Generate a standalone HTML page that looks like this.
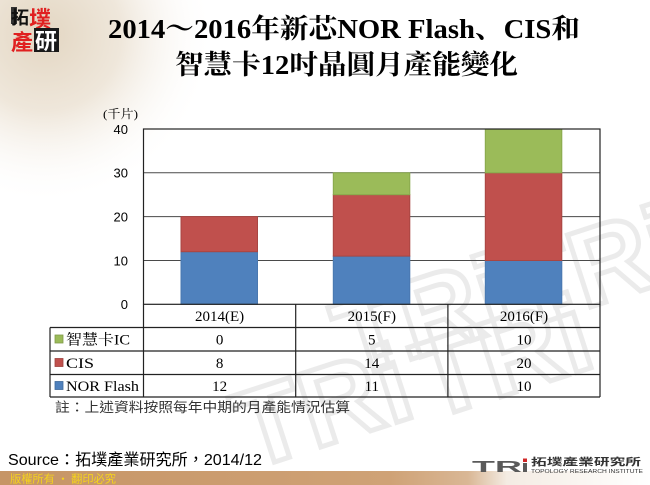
<!DOCTYPE html>
<html>
<head>
<meta charset="utf-8">
<style>
  html,body{margin:0;padding:0;background:#fff;}
  body{width:650px;height:485px;overflow:hidden;}
  svg{display:block;}
</style>
</head>
<body>
<svg width="650" height="485" viewBox="0 0 650 485" xmlns="http://www.w3.org/2000/svg">
  <defs>
    <radialGradient id="parch" cx="45" cy="35" r="170" gradientUnits="userSpaceOnUse">
      <stop offset="0" stop-color="#e3d6c2"/>
      <stop offset="0.45" stop-color="#efe7db"/>
      <stop offset="1" stop-color="#ffffff" stop-opacity="0"/>
    </radialGradient>
    <linearGradient id="bar" x1="0" y1="0" x2="1" y2="0">
      <stop offset="0" stop-color="#c69566"/>
      <stop offset="0.6" stop-color="#cfa276"/>
      <stop offset="0.72" stop-color="#d9b795"/>
      <stop offset="0.78" stop-color="#f4ece3"/>
      <stop offset="1" stop-color="#ffffff"/>
    </linearGradient>
  </defs>

  <!-- background -->
  <rect x="0" y="0" width="650" height="485" fill="#ffffff"/>
  <rect x="0" y="0" width="260" height="200" fill="url(#parch)"/>

  <!-- watermark -->
  <g font-family="Liberation Sans, sans-serif" font-weight="bold" fill="none" stroke="#ebebeb" stroke-width="5" font-size="110">
    <text x="250" y="470" transform="rotate(-18 250 470)">TRi</text>
    <text x="430" y="420" transform="rotate(-18 430 420)">TRi</text>
    <text x="520" y="330" transform="rotate(-18 520 330)">TRi</text>
    <text x="350" y="380" transform="rotate(-18 350 380)">TRi</text>
  </g>

  <!-- top-left logo -->
  <rect x="11" y="7" width="6" height="17" fill="#333"/>
  <text x="11" y="24" font-family="Noto Sans CJK TC, sans-serif" font-weight="bold" font-size="18" fill="#111">拓</text>
  <text x="29" y="27" font-family="Noto Sans CJK TC, sans-serif" font-weight="bold" font-size="22" fill="#e02020">墣</text>
  <text x="11" y="50" font-family="Noto Sans CJK TC, sans-serif" font-weight="bold" font-size="22" fill="#e02020">產</text>
  <rect x="34" y="28" width="25" height="24" fill="#1a1a1a"/>
  <text x="35" y="49" font-family="Noto Sans CJK TC, sans-serif" font-weight="bold" font-size="22" fill="#ffffff">研</text>

  <!-- title -->
  <g font-family="Liberation Serif, Noto Serif CJK SC, serif" font-weight="bold" fill="#000">
    <text x="108" y="38" font-size="27" textLength="472" lengthAdjust="spacingAndGlyphs">2014～2016年新芯NOR Flash、CIS和</text>
    <text x="175" y="74" font-size="27" textLength="343" lengthAdjust="spacingAndGlyphs">智慧卡12吋晶圓月產能變化</text>
  </g>

  <!-- y axis unit and labels -->
  <text x="103" y="118" font-family="Liberation Serif, Noto Serif CJK SC, serif" font-size="12" fill="#000" textLength="35" lengthAdjust="spacingAndGlyphs">(千片)</text>
  <g font-family="Liberation Sans, sans-serif" font-size="13" fill="#000" text-anchor="end">
    <text x="128" y="134">40</text>
    <text x="128" y="177.5">30</text>
    <text x="128" y="221.5">20</text>
    <text x="128" y="265.5">10</text>
    <text x="128" y="309">0</text>
  </g>

  <!-- grid lines -->
  <g stroke="#4a4a4a" stroke-width="1">
    <line x1="143.5" y1="172.8" x2="600" y2="172.8"/>
    <line x1="143.5" y1="216.6" x2="600" y2="216.6"/>
    <line x1="143.5" y1="260.5" x2="600" y2="260.5"/>
  </g>

  <!-- bars -->
  <g stroke-width="1">
    <!-- 2014 -->
    <rect x="181" y="251.7" width="76.5" height="52.6" fill="#4f81bd" stroke="#4a78b0"/>
    <rect x="181" y="216.6" width="76.5" height="35.1" fill="#c0504d" stroke="#a84542"/>
    <!-- 2015 -->
    <rect x="333.3" y="256.1" width="76.5" height="48.2" fill="#4f81bd" stroke="#4a78b0"/>
    <rect x="333.3" y="194.7" width="76.5" height="61.4" fill="#c0504d" stroke="#a84542"/>
    <rect x="333.3" y="172.8" width="76.5" height="21.9" fill="#9bbb59" stroke="#88a84c"/>
    <!-- 2016 -->
    <rect x="485.3" y="260.5" width="76.5" height="43.8" fill="#4f81bd" stroke="#4a78b0"/>
    <rect x="485.3" y="172.8" width="76.5" height="87.7" fill="#c0504d" stroke="#a84542"/>
    <rect x="485.3" y="129" width="76.5" height="43.8" fill="#9bbb59" stroke="#88a84c"/>
  </g>

  <!-- plot border -->
  <rect x="143.5" y="129" width="456.5" height="175.3" fill="none" stroke="#222" stroke-width="1.2"/>

  <!-- data table -->
  <g stroke="#222" stroke-width="1.2" fill="none">
    <line x1="143.5" y1="304.3" x2="143.5" y2="397"/>
    <line x1="295.7" y1="304.3" x2="295.7" y2="397"/>
    <line x1="447.9" y1="304.3" x2="447.9" y2="397"/>
    <line x1="600" y1="304.3" x2="600" y2="397"/>
    <line x1="50" y1="327.5" x2="50" y2="397"/>
    <line x1="50" y1="327.5" x2="600" y2="327.5"/>
    <line x1="50" y1="351" x2="600" y2="351"/>
    <line x1="50" y1="374.5" x2="600" y2="374.5"/>
    <line x1="50" y1="397" x2="600" y2="397"/>
  </g>

  <g font-family="Liberation Serif, Noto Serif CJK SC, serif" font-size="15" fill="#000" text-anchor="middle">
    <text x="219.6" y="321">2014(E)</text>
    <text x="371.8" y="321">2015(F)</text>
    <text x="524" y="321">2016(F)</text>

    <text x="219.6" y="344.5">0</text>
    <text x="371.8" y="344.5">5</text>
    <text x="524" y="344.5">10</text>

    <text x="219.6" y="368">8</text>
    <text x="371.8" y="368">14</text>
    <text x="524" y="368">20</text>

    <text x="219.6" y="391">12</text>
    <text x="371.8" y="391">11</text>
    <text x="524" y="391">10</text>
  </g>

  <!-- legend keys -->
  <rect x="55" y="335" width="8" height="8" fill="#9bbb59" stroke="#7f9a48" stroke-width="0.8"/>
  <rect x="55" y="358.5" width="8" height="8" fill="#c0504d" stroke="#9e413e" stroke-width="0.8"/>
  <rect x="55" y="381.5" width="8" height="8" fill="#4f81bd" stroke="#3f6a9c" stroke-width="0.8"/>
  <g font-family="Liberation Serif, Noto Serif CJK SC, serif" font-size="15" fill="#000">
    <text x="66" y="344.5" textLength="64" lengthAdjust="spacingAndGlyphs">智慧卡IC</text>
    <text x="66" y="368" textLength="28" lengthAdjust="spacingAndGlyphs">CIS</text>
    <text x="66" y="391" textLength="73" lengthAdjust="spacingAndGlyphs">NOR Flash</text>
  </g>

  <!-- note -->
  <text x="55" y="412" font-family="Noto Sans CJK TC, sans-serif" font-size="13.5" fill="#333" textLength="295" lengthAdjust="spacingAndGlyphs">註：上述資料按照每年中期的月產能情況估算</text>

  <!-- source -->
  <text x="8" y="465" font-family="Liberation Sans, Noto Sans CJK TC, sans-serif" font-size="16" fill="#000" textLength="254" lengthAdjust="spacingAndGlyphs">Source：拓墣產業研究所，2014/12</text>

  <!-- bottom bar -->
  <rect x="0" y="471" width="650" height="14" fill="url(#bar)"/>
  <text x="10" y="482.5" font-family="Noto Sans CJK TC, sans-serif" font-size="11" fill="#f5d31c" textLength="106" lengthAdjust="spacingAndGlyphs">版權所有 • 翻印必究</text>

  <!-- bottom-right TRI logo -->
  <text x="472" y="472" font-family="Liberation Sans, sans-serif" font-weight="bold" font-size="16" fill="#5a5a5a" textLength="50" lengthAdjust="spacingAndGlyphs">TR</text>
  <rect x="523" y="463" width="4" height="9" fill="#5a5a5a"/>
  <rect x="523" y="458.5" width="4" height="3.5" fill="#d02828"/>
  <text x="531" y="465.5" font-family="Noto Sans CJK TC, sans-serif" font-weight="bold" font-size="10" fill="#333" textLength="110" lengthAdjust="spacingAndGlyphs">拓墣產業研究所</text>
  <text x="531" y="473" font-family="Liberation Sans, sans-serif" font-size="5" fill="#333" textLength="112" lengthAdjust="spacingAndGlyphs">TOPOLOGY RESEARCH INSTITUTE</text>
</svg>
</body>
</html>
